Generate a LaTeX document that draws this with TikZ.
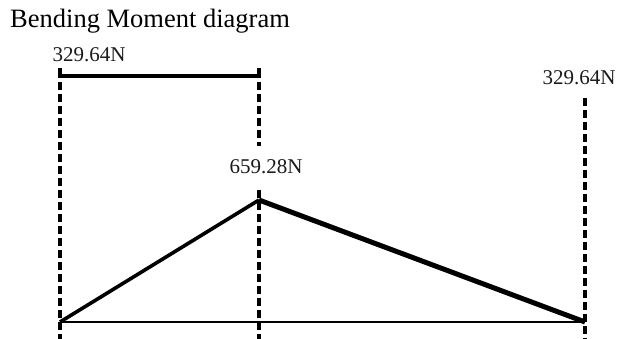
\documentclass[tikz,border=0pt]{standalone}
\usepackage{fontspec}
\setmainfont{Liberation Serif}
\usetikzlibrary{positioning}
\definecolor{ink}{HTML}{000000}
\definecolor{labelInk}{HTML}{1A1A1A}

\begin{document}
\begin{tikzpicture}[x=1pt, y=-1pt,
  guide/.style={ink, line width=3.2pt, dash pattern=on 8pt off 4pt},
  bracket/.style={ink, line width=3.2pt},
  moment/.style={ink, line width=3.6pt, line join=miter},
  axisline/.style={ink, line width=1.6pt},
  forcelabel/.style={labelInk, font=\fontsize{21}{22}\selectfont, inner sep=1pt}]
  \useasboundingbox (0,0) rectangle (618,339);

  % title
  \node[anchor=base west, inner sep=0pt, font=\fontsize{26.5}{28}\selectfont] (title) at (10,28) {Bending Moment diagram};

  % points of the beam
  \coordinate (leftEnd)  at (60,322);
  \coordinate (midPeak)  at (259,200);
  \coordinate (rightEnd) at (585,322);
  \coordinate (leftTop)  at (60,76);
  \coordinate (midTop)   at (259,76);
  \coordinate (midGapUp) at (259,146);
  \coordinate (midGapLo) at (259,190);
  \coordinate (rightTop) at (585,98);
  \coordinate (leftBot)  at (60,339);
  \coordinate (midBot)   at (259,339);
  \coordinate (rightBot) at (585,339);

  % force labels
  \node[forcelabel] (leftForce)  at (89,55)  {329.64N};
  \node[forcelabel] (midForce)   at (266,167) {659.28N};
  \node[forcelabel] (rightForce) at (579,78)  {329.64N};

  % dashed guides
  \draw[guide] ([yshift=6pt]leftTop) -- (leftBot);
  \draw[guide] ([yshift=6pt]midTop) -- (midGapUp);
  \draw[guide] (midGapLo) -- (midBot);
  \draw[guide] (rightTop) -- (rightBot);

  % top bracket
  \draw[bracket] ([yshift=8pt]leftTop) -- (leftTop) -- (midTop) -- ([yshift=8pt]midTop);

  % base line and moment curve
  \draw[axisline] (leftEnd) -- (rightEnd);
  \draw[moment] (leftEnd) -- (midPeak);
  \draw[moment, line width=5pt] (midPeak) -- (rightEnd);
\end{tikzpicture}
\end{document}
